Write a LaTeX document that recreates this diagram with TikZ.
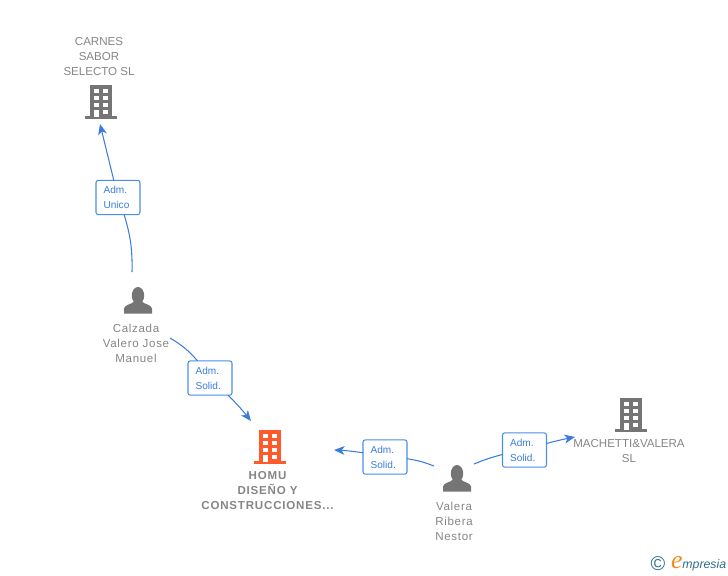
\documentclass[tikz,border=0pt]{standalone}
\usepackage{fontspec}
\usetikzlibrary{arrows.meta}
\setmainfont{Liberation Sans}
\newfontfamily\spacedfont[LetterSpace=6]{Liberation Sans}
\newfontfamily\spacedbold[LetterSpace=7,BoldFont={Liberation Sans Bold}]{Liberation Sans Bold}
\newfontfamily\logoserif{Liberation Serif}
\definecolor{linkblue}{HTML}{3B7DDD}
\definecolor{boxblue}{HTML}{4A8FE7}
\definecolor{icongray}{HTML}{757575}
\definecolor{textgray}{HTML}{858585}
\definecolor{homuorange}{HTML}{FF5A2B}
\definecolor{logoteal}{HTML}{2F6F85}
\definecolor{logoorange}{HTML}{F28A1E}
\tikzset{
pics/building/.style={code={
  \fill[#1] (-10.8,0) rectangle (10.8,32);
  \fill[#1] (-16,31) rectangle (16,34);
  \foreach \y in {3.5,10.5,17.5} {
    \fill[white] (-7,\y) rectangle (-2.2,\y+4.8);
    \fill[white] (2,\y) rectangle (7,\y+4.8);
  }
  \fill[white] (-7,24.5) rectangle (-2.2,32);
  \fill[white] (2,24.5) rectangle (7,29.3);
}},
pics/person/.style={code={
  \fill[icongray] (0,8.5) ellipse (6.2 and 8.5);
  \fill[icongray] (-14,26.5) -- (-14,21.5) .. controls (-13.5,17.5) and (-6,17.5) .. (-3.5,14)
    -- (3.5,14) .. controls (6,17.5) and (13.5,17.5) .. (14,21.5) -- (14,26.5) -- cycle;
}}
}
\begin{document}
\begin{tikzpicture}[x=0.03cm,y=-0.03cm,inner sep=0pt,outer sep=0pt,
rolebox/.style={draw=boxblue,fill=white,rectangle,rounded corners=2pt,line width=0.9pt,minimum width=1.32cm,minimum height=1.03cm,text width=1.32cm-13pt,align=left,text=linkblue,font=\fontsize{8.6}{12.8}\selectfont},
namelabel/.style={align=center,text=textgray,font=\fontsize{9.85}{12.8}\selectfont},
personlabel/.style={namelabel,font=\spacedfont\fontsize{9.85}{12.8}\selectfont},
link/.style={draw=linkblue,line width=0.9pt},
linkto/.style={link,-{Stealth[length=9pt,width=7.5pt,inset=2.5pt]}}]
\useasboundingbox (0,0) rectangle (728,575);
\pic (carnes) at (101,85) {building=icongray};
\pic (homu) at (270,430) {building=homuorange};
\pic (machetti) at (631,398) {building=icongray};
\pic (calzada) at (138,287) {person};
\pic (valera) at (457,465) {person};
\node[namelabel] (carneslabel) at (99,56.5) {CARNES\\SABOR\\SELECTO SL};
\node[personlabel] (calzadalabel) at (136,343) {Calzada\\Valero Jose\\Manuel};
\node[namelabel,font=\spacedbold\fontsize{9.85}{12.8}\selectfont] (homulabel) at (267.5,491) {HOMU\\DISEÑO Y\\CONSTRUCCIONES...};
\node[personlabel] (valeralabel) at (454,521) {Valera\\Ribera\\Nestor};
\node[namelabel] (machettilabel) at (629,451.5) {MACHETTI\&VALERA\\SL};
\node[rolebox] (adm1) at (118,197.5) {Adm.\\Unico};
\node[rolebox] (adm2) at (210,378) {Adm.\\Solid.};
\node[rolebox] (adm3) at (385,457) {Adm.\\Solid.};
\node[rolebox] (adm4) at (524.5,450) {Adm.\\Solid.};
\coordinate (calzadaup) at (132,272);
\coordinate (carnesin) at (100,124);
\coordinate (calzadaout) at (170,338);
\coordinate (homuin) at (251,421);
\coordinate (valeraleft) at (434,466);
\coordinate (homuright) at (334,450);
\coordinate (valeraright) at (474,464);
\coordinate (machettiin) at (575,437);
\draw[link] (calzadaup) to[bend right=9] (adm1);
\draw[linkto] (adm1) -- (carnesin);
\draw[link] (calzadaout) to[bend left=9] (adm2);
\draw[linkto] (adm2) to[bend left=3] (homuin);
\draw[link] (valeraleft) to[bend right=6] (adm3);
\draw[linkto] (adm3) to[bend right=3] (homuright);
\draw[link] (valeraright) to[bend left=4] (adm4);
\draw[linkto] (adm4) to[bend left=2] (machettiin);
\node[text=logoteal,font=\fontsize{17}{17}\selectfont] (logoc) at (658,564) {©};
\node[anchor=west,text=logoteal,font=\itshape\fontsize{10.5}{12}\selectfont] (logotext) at (671,564) {\textcolor{logoorange}{\logoserif\itshape\fontsize{22}{12}\selectfont e}mpresia};
\end{tikzpicture}
\end{document}
